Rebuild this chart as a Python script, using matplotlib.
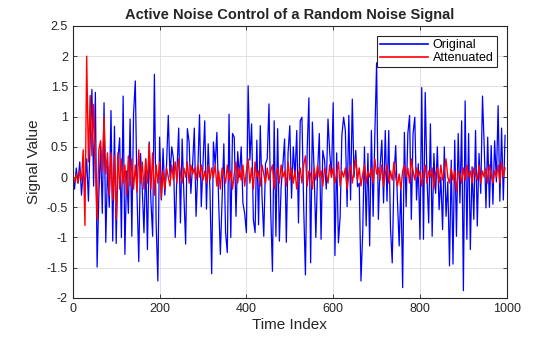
import numpy as np
import matplotlib
matplotlib.use("Agg")
import matplotlib.pyplot as plt

plt.rcParams['font.family'] = ['Liberation Sans', 'DejaVu Sans']

time_index = np.arange(0, 1000, 4)

original = [
    0.05, -0.2, 0.15, -0.1, 0.25, -0.3, 0.1, -0.15, 0.3, -0.4,
    0.6, 1.45, -0.15, 1.4, -1.49, -0.3, 0.5, -0.6, 1.23, -1.08,
    0.2, -0.5, 1.1, -1.06, 0.84, -1.1, 0.3, 0.65, -1.0, 1.34,
    -1.28, 0.1, -0.6, 0.96, -0.98, 1.05, 1.59, -0.3, -1.4, 0.39,
    -0.2, -0.92, 0.3, -1.2, 0.58, -0.4, -0.98, 1.7, -0.76, -1.72,
    0.66, -0.38, 0.47, -0.3, 0.2, 1.02, 0.0, 0.5, 0.3, -1.0,
    0.1, 0.81, -0.76, 0.63, -0.3, -1.11, 0.8, 0.58, -0.27, 0.2,
    0.81, -0.65, 0.1, 1.03, -0.49, 0.2, 0.93, -0.53, 0.55, -0.2,
    -1.6, 0.58, 0.2, 0.74, -0.4, -1.28, -0.38, 0.55, -0.92, -1.25,
    1.04, -1.0, 0.72, 0.66, -0.65, 0.42, 0.0, 0.5, -0.43, -0.6,
    -0.92, 1.51, 0.28, 0.88, -0.7, -0.92, 0.61, -0.79, 0.85, -0.32,
    -0.98, 0.22, 0.3, 1.21, -0.54, -1.56, 0.93, -0.98, 0.8, -1.06,
    -0.17, 0.2, 0.63, -1.08, 0.4, 0.85, -0.35, 0.5, 0.0, 0.77,
    -0.76, 0.93, 0.99, -0.5, -1.62, 0.44, 1.31, -1.42, 0.91, 0.1,
    -1.0, 0.1, 0.72, -1.03, 0.44, 0.28, -0.2, 0.96, 0.4, 0.0,
    1.23, -1.3, 0.4, -1.09, -0.65, 0.69, 0.99, 0.77, -0.49, 1.02,
    -0.38, 1.29, 0.0, 0.44, -0.16, -0.1, -1.72, -0.92, 0.5, -0.81,
    0.39, -1.14, 0.77, -0.65, 0.72, 1.89, -0.7, 0.17, 0.61, -0.43,
    0.77, -0.4, 0.77, -0.84, -1.42, 0.0, 0.52, -0.38, -1.14, -0.1,
    -1.83, 0.74, -0.49, 0.72, 1.02, -0.7, 0.72, 0.99, -0.38, 0.22,
    -1.03, 1.48, -1.03, 1.4, 0.0, -0.76, 0.88, -0.98, 0.39, -0.27,
    0.5, -0.54, 0.0, -0.87, 0.5, -0.65, -0.08, -1.47, 0.28, -1.44,
    0.61, -0.98, 0.72, -0.43, 0.93, -1.88, 1.26, -1.03, 0.72, -1.2,
    0.17, -0.7, 0.77, -0.81, 0.39, -0.27, 1.34, 0.5, -0.51, 0.66,
    -0.5, 0.52, -0.45, 0.6, -0.08, 1.18, -0.4, 0.81, -0.38, 0.69,
]

attenuated = [
    0.0, -0.08, 0.05, -0.1, 0.1, -0.05, 0.45, -0.8, 2.0, 0.25,
    1.35, 0.35, 1.2, 0.2, -0.7, 0.45, 0.6, 0.1, 1.0, 0.05,
    0.4, -0.3, 0.4, -0.38, 0.35, -0.7, 0.4, -0.2, 0.3, -0.1,
    0.2, -0.3, 0.35, -0.15, 0.3, -0.2, 0.2, -0.25, 0.45, -0.1,
    0.25, -0.2, 0.3, -0.1, 0.55, -0.2, 0.4, -0.3, 0.2, -0.1,
    0.25, -0.35, 0.1, -0.2, 0.15, 0.0, -0.15, 0.2, -0.05, 0.25,
    -0.1, 0.3, 0.05, -0.1, 0.15, 0.0, 0.25, -0.1, 0.2, 0.05,
    0.15, -0.05, 0.2, 0.0, 0.2, -0.05, 0.1, -0.1, 0.2, -0.05,
    0.15, 0.0, 0.2, -0.15, 0.1, -0.2, 0.15, 0.05, -0.1, 0.2,
    -0.05, 0.1, -0.2, 0.05, 0.25, -0.1, 0.15, -0.05, 0.2, -0.15,
    0.1, 0.3, -0.1, 0.15, -0.2, 0.25, 0.0, 0.1, -0.15, 0.2,
    0.05, -0.1, 0.15, -0.05, 0.1, 0.2, -0.2, 0.05, 0.15, -0.1,
    0.2, 0.0, 0.1, -0.15, 0.25, -0.05, 0.15, -0.1, 0.1, -0.2,
    0.05, 0.15, -0.1, 0.2, 0.35, -0.15, 0.1, 0.05, -0.2, 0.15,
    -0.05, 0.2, 0.0, 0.1, -0.15, 0.15, 0.05, -0.1, 0.2, 0.0,
    0.15, -0.1, 0.05, 0.25, -0.15, 0.1, 0.0, 0.15, -0.2, 0.05,
    0.2, -0.1, 0.1, 0.3, -0.05, 0.15, -0.15, 0.05, 0.2, -0.1,
    0.1, 0.0, 0.15, -0.1, 0.3, 0.05, 0.15, -0.05, 0.2, -0.15,
    0.05, 0.2, -0.1, 0.1, -0.05, 0.25, 0.0, -0.15, 0.05, -0.2,
    0.1, 0.2, 0.0, 0.15, -0.1, 0.3, 0.1, -0.05, 0.15, 0.0,
    0.1, -0.15, 0.05, 0.2, -0.1, 0.1, 0.0, 0.15, -0.2, 0.05,
    0.15, -0.1, 0.2, -0.05, 0.1, 0.3, 0.0, -0.1, 0.15, -0.05,
    0.1, -0.25, 0.1, 0.05, -0.1, 0.15, -0.05, 0.2, 0.0, 0.1,
    -0.1, 0.15, 0.05, -0.05, 0.2, -0.1, 0.1, 0.0, 0.15, -0.1,
    0.2, 0.05, -0.1, 0.1, 0.0, 0.2, -0.1, 0.25, 0.0, 0.15,
]

fig = plt.figure(figsize=(5.6, 3.37), dpi=100)
ax = fig.add_axes([0.13, 0.116, 0.775, 0.807])

ax.plot(time_index, original, color=(0, 0, 1), linewidth=0.9, label='Original')
ax.plot(time_index, attenuated, color=(1, 0, 0), linewidth=1.0, label='Attenuated')

ax.set_xlim(0, 1000)
ax.set_ylim(-2, 2.5)
ax.set_xticks(np.arange(0, 1001, 200))
ax.set_yticks(np.arange(-2, 2.51, 0.5))
ax.set_yticklabels(['-2', '-1.5', '-1', '-0.5', '0', '0.5', '1', '1.5', '2', '2.5'])
ax.grid(True, color='#dcdcdc', linewidth=0.6)
ax.set_axisbelow(True)
ax.tick_params(direction='in', top=True, right=True, labelsize=9, length=3, width=0.6, colors='#262626')
for s in ax.spines.values():
    s.set_linewidth(0.8)
    s.set_color('#262626')

ax.set_xlabel('Time Index', fontsize=11, color='#262626', labelpad=2)
ax.set_ylabel('Signal Value', fontsize=11, color='#262626', labelpad=4)
ax.set_title('Active Noise Control of a Random Noise Signal', fontsize=10.5,
             fontweight='bold', color='#262626', pad=5)

leg = ax.legend(loc='upper right', fontsize=9, fancybox=False, edgecolor='#262626',
                framealpha=1, handlelength=3.8, borderaxespad=0.8, borderpad=0.25,
                labelspacing=0.1, handletextpad=0.4)
leg.get_frame().set_linewidth(0.8)
for line in leg.get_lines():
    line.set_linewidth(1.2)

fig.savefig('out.png', dpi=100)
